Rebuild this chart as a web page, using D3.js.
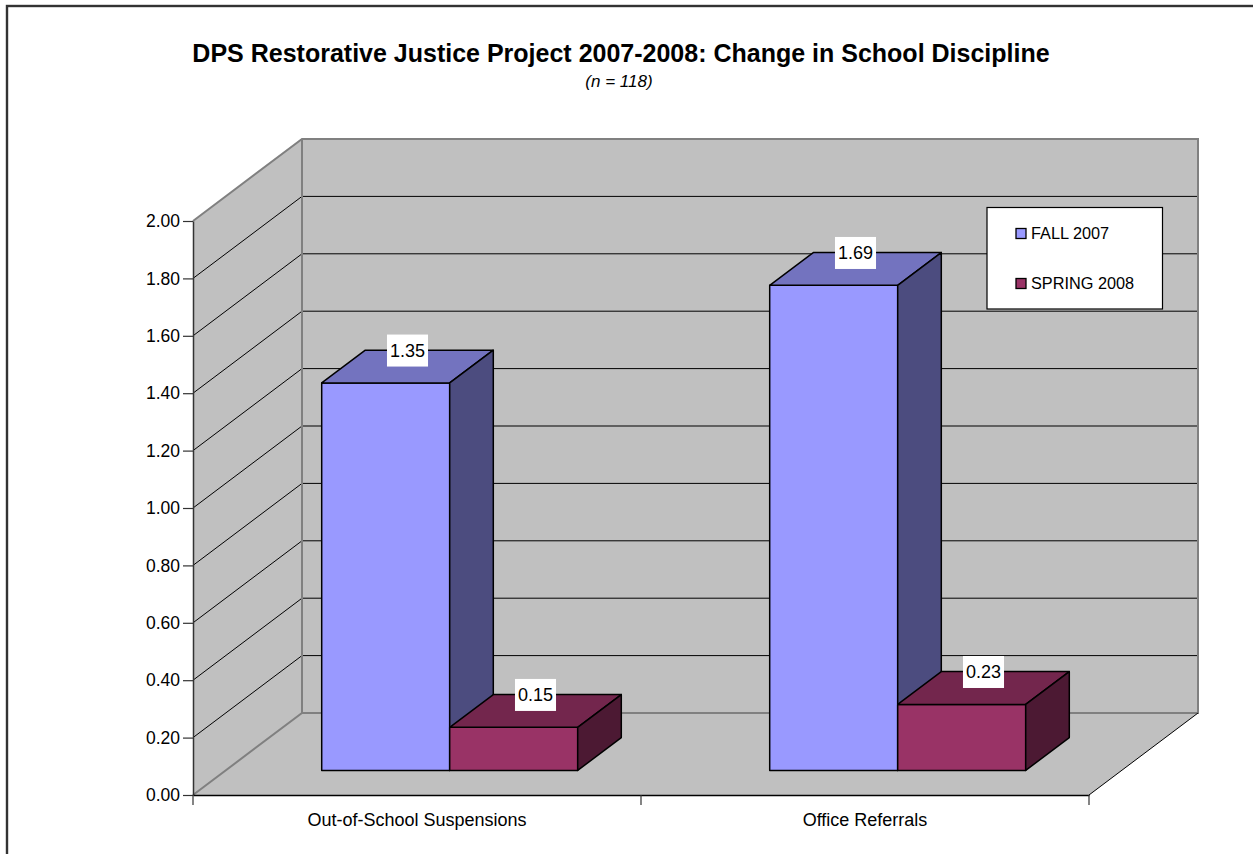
<!DOCTYPE html>
<html>
<head>
<meta charset="utf-8">
<script src="https://cdn.jsdelivr.net/npm/d3@7/dist/d3.min.js"></script>
<style>
  html, body { margin: 0; padding: 0; background: #fff; }
  svg { display: block; }
  text { font-family: "Liberation Sans", Arial, sans-serif; fill: #000; }
</style>
</head>
<body>
<svg id="chart" width="1253" height="854"></svg>
<script>
// ---- data ----
const categories = ["Out-of-School Suspensions", "Office Referrals"];
const seriesNames = ["FALL 2007", "SPRING 2008"];
const fall2007 = [1.35, 1.69];
const spring2008 = [0.15, 0.23];
const yTicks = [0.0, 0.2, 0.4, 0.6, 0.8, 1.0, 1.2, 1.4, 1.6, 1.8, 2.0];
const titleText = "DPS Restorative Justice Project 2007-2008: Change in School Discipline";
const subtitleText = "(n = 118)";

// ---- styles ----
const faceColors = {
  "FALL 2007":   { front: "#9999FF", top: "#7373BF", side: "#4C4C7F" },
  "SPRING 2008": { front: "#993366", top: "#73264D", side: "#4C1933" }
};
const wallFill = "#C0C0C0";
const wallEdge = "#808080";

// ---- 3D frame geometry ----
const X0 = 193, Y0 = 795;   // front-bottom-left corner of the plot box
const W = 896, H = 574;     // front width and full value height
const DX = 109, DY = 82;    // depth offset of the back wall
const zFront = 0.3, zBack = 0.7;  // bar depth range within the box

const svg = d3.select("#chart");

const yPix = d3.scaleLinear().domain([0, 2]).range([0, H]);
const yAxisScale = d3.scaleLinear().domain([0, 2]).range([Y0, Y0 - H]);
const xCat = d3.scaleBand().domain(categories).range([0, W]).padding(0);
const barW = xCat.bandwidth() / 3.5;   // gap width 150%
const xSeries = d3.scaleBand().domain(seriesNames)
  .range([(xCat.bandwidth() - 2 * barW) / 2, (xCat.bandwidth() + 2 * barW) / 2]).padding(0);

// project (x along category axis, value, depth fraction) to screen
function proj(x, v, z) {
  return [X0 + x + z * DX, Y0 - yPix(v) - z * DY];
}
const line = d3.line();
function poly(pts) { return line(pts) + "Z"; }

// outer chart border
svg.append("rect")
  .attr("x", 7).attr("y", 6).attr("width", 1400).attr("height", 1000)
  .attr("fill", "none").attr("stroke", "#333").attr("stroke-width", 2.4);

const walls = svg.append("g");
// left wall
walls.append("path")
  .attr("d", poly([proj(0, 0, 0), proj(0, 2, 0), proj(0, 2, 1), proj(0, 0, 1)]))
  .attr("fill", wallFill);
// back wall
walls.append("path")
  .attr("d", poly([proj(0, 0, 1), proj(W, 0, 1), proj(W, 2, 1), proj(0, 2, 1)]))
  .attr("fill", wallFill);
// floor
walls.append("path")
  .attr("d", poly([proj(0, 0, 0), proj(W, 0, 0), proj(W, 0, 1), proj(0, 0, 1)]))
  .attr("fill", wallFill);

// gridlines across the left and back walls
const inner = yTicks.filter(v => v > 0 && v < 2);
walls.selectAll(".grid").data(inner).join("path")
  .attr("class", "grid")
  .attr("d", v => line([proj(0, v, 0), proj(0, v, 1), proj(W, v, 1)]))
  .attr("fill", "none").attr("stroke", "#000").attr("stroke-width", 1);

// wall outlines
walls.append("path")
  .attr("d", line([proj(0, 0, 0), proj(0, 0, 1), proj(W, 0, 1), proj(W, 2, 1), proj(0, 2, 1), proj(0, 2, 0)]))
  .attr("fill", "none").attr("stroke", wallEdge).attr("stroke-width", 2);
walls.append("path")
  .attr("d", line([proj(0, 0, 1), proj(0, 2, 1)]))
  .attr("fill", "none").attr("stroke", wallEdge).attr("stroke-width", 2);
// floor right edge
walls.append("path")
  .attr("d", line([proj(W, 0, 0), proj(W, 0, 1)]))
  .attr("fill", "none").attr("stroke", "#000").attr("stroke-width", 1);

// value axis
const yAxis = svg.append("g")
  .attr("transform", `translate(${X0},0)`)
  .call(d3.axisLeft(yAxisScale).tickValues(yTicks).tickFormat(d3.format(".2f"))
    .tickSize(10).tickSizeOuter(0).tickPadding(3));
yAxis.select(".domain").attr("stroke", "#333").attr("stroke-width", 1.5);
yAxis.selectAll(".tick line").attr("stroke", "#333").attr("stroke-width", 1.2);
yAxis.selectAll(".tick text").attr("font-size", 17.5).attr("font-family", null).attr("fill", "#000");

// category axis
const xAxisScale = d3.scaleBand().domain(categories).range([X0, X0 + W]);
const xAxis = svg.append("g")
  .attr("transform", `translate(0,${Y0})`)
  .call(d3.axisBottom(xAxisScale).tickSize(0).tickPadding(18));
xAxis.select(".domain").attr("stroke", "#000").attr("stroke-width", 1.5);
xAxis.selectAll(".tick text").attr("font-size", 18).attr("font-family", null).attr("fill", "#000");
const boundaries = [0, ...categories.map(c => xCat(c) + xCat.bandwidth())];
xAxis.selectAll(".boundary").data(boundaries).join("line")
  .attr("class", "boundary")
  .attr("x1", d => X0 + d).attr("x2", d => X0 + d)
  .attr("y1", 0).attr("y2", 10)
  .attr("stroke", "#333").attr("stroke-width", 1.2);

// bars
const barData = [];
categories.forEach((c, i) => {
  [fall2007, spring2008].forEach((vals, s) => {
    const name = seriesNames[s];
    const xL = xCat(c) + xSeries(name);
    barData.push({ cat: c, name, value: vals[i], xL, xR: xL + barW });
  });
});

const bars = svg.append("g");
barData.forEach(d => {
  const col = faceColors[d.name];
  const g = bars.append("g").attr("stroke", "#000").attr("stroke-width", 1.5).attr("stroke-linejoin", "round");
  g.append("path").attr("fill", col.front)
    .attr("d", poly([proj(d.xL, 0, zFront), proj(d.xR, 0, zFront), proj(d.xR, d.value, zFront), proj(d.xL, d.value, zFront)]));
  g.append("path").attr("fill", col.top)
    .attr("d", poly([proj(d.xL, d.value, zFront), proj(d.xR, d.value, zFront), proj(d.xR, d.value, zBack), proj(d.xL, d.value, zBack)]));
  g.append("path").attr("fill", col.side)
    .attr("d", poly([proj(d.xR, 0, zFront), proj(d.xR, 0, zBack), proj(d.xR, d.value, zBack), proj(d.xR, d.value, zFront)]));
});

// data labels above each bar's top face
const labels = svg.append("g");
barData.forEach(d => {
  const a = proj(d.xL, d.value, zFront), b = proj(d.xR, d.value, zBack);
  const cx = (a[0] + b[0]) / 2, cy = (a[1] + b[1]) / 2 - 16;
  const g = labels.append("g");
  const rect = g.append("rect").attr("fill", "#fff");
  const t = g.append("text").attr("x", cx).attr("y", cy).attr("dy", "0.35em")
    .attr("text-anchor", "middle").attr("font-size", 18).text(d3.format(".2f")(d.value));
  const tw = t.node().getComputedTextLength();
  rect.attr("x", cx - tw / 2 - 3).attr("y", cy - 16).attr("width", tw + 6).attr("height", 32);
});

// legend
const legend = svg.append("g");
legend.append("rect").attr("x", 987).attr("y", 207.5).attr("width", 175.5).attr("height", 101.5)
  .attr("fill", "#fff").attr("stroke", "#000").attr("stroke-width", 1.2);
seriesNames.forEach((name, i) => {
  const yy = 228.5 + i * 50;
  legend.append("rect").attr("x", 1016).attr("y", yy).attr("width", 10).attr("height", 10)
    .attr("fill", faceColors[name].front).attr("stroke", "#000").attr("stroke-width", 1.3);
  legend.append("text").attr("x", 1031).attr("y", yy + 5).attr("dy", "0.35em")
    .attr("font-size", 16.3).text(name);
});

// titles
svg.append("text").attr("x", 621).attr("y", 62).attr("text-anchor", "middle")
  .attr("font-size", 25).attr("font-weight", "bold").text(titleText);
svg.append("text").attr("x", 619).attr("y", 87).attr("text-anchor", "middle")
  .attr("font-size", 17).attr("font-style", "italic").text(subtitleText);
</script>
</body>
</html>
